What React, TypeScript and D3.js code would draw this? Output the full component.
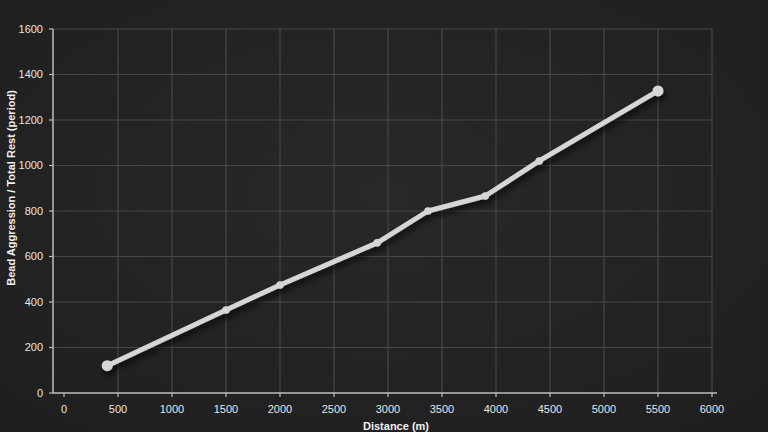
import React from "react";
import * as d3 from "d3";

const xValues = [400, 1500, 2000, 2900, 3370, 3900, 4400, 5500];
const yValues = [120, 365, 475, 660, 800, 866, 1020, 1328];
const xTicks = [0, 500, 1000, 1500, 2000, 2500, 3000, 3500, 4000, 4500, 5000, 5500, 6000];
const yTicks = [0, 200, 400, 600, 800, 1000, 1200, 1400, 1600];
const yTitle = "Bead Aggression / Total Rest (period)";
const xTitle = "Distance (m)";

const W = 768;
const H = 432;
const axisX = 53;
const axisY = 393;

export default function App() {
  const x = d3.scaleLinear().domain([0, 6000]).range([64, 712]);
  const y = d3.scaleLinear().domain([0, 1600]).range([393, 29]);
  const pts = xValues.map((v, i) => [v, yValues[i]] as [number, number]);
  const line = d3
    .line<[number, number]>()
    .x((d) => x(d[0]))
    .y((d) => y(d[1]));
  const fmtX = d3.format("d");
  const fmtY = d3.format("d");
  const font = "'Liberation Sans', Arial, sans-serif";
  return (
    <svg
      width={W}
      height={H}
      style={{ position: "absolute", left: 0, top: 0, background: "#232323" }}
    >
      <defs>
        <filter id="sh" x="-10%" y="-10%" width="120%" height="130%">
          <feDropShadow dx="2" dy="4" stdDeviation="3" floodColor="#000" floodOpacity="0.75" />
        </filter>
        <radialGradient id="bg" cx="50%" cy="45%" r="70%">
          <stop offset="0%" stopColor="#282828" />
          <stop offset="100%" stopColor="#1f1f1f" />
        </radialGradient>
      </defs>
      <rect width={W} height={H} fill="url(#bg)" />
      {/* grid */}
      {yTicks.slice(1).map((t) => (
        <line key={"gy" + t} x1={axisX} x2={712} y1={y(t)} y2={y(t)} stroke="#474747" strokeWidth={1.2} />
      ))}
      {xTicks.slice(1).map((t) => (
        <line key={"gx" + t} x1={x(t)} x2={x(t)} y1={29} y2={axisY} stroke="#474747" strokeWidth={1.2} />
      ))}
      {/* axes */}
      <line x1={axisX} x2={axisX} y1={29} y2={axisY} stroke="#bdbdbd" strokeWidth={1.5} />
      <line x1={axisX} x2={717} y1={axisY} y2={axisY} stroke="#bdbdbd" strokeWidth={1.5} />
      {yTicks.map((t) => (
        <g key={"ty" + t}>
          <line x1={axisX - 4} x2={axisX} y1={y(t)} y2={y(t)} stroke="#bdbdbd" strokeWidth={1.2} />
          <text
            x={43}
            y={y(t)}
            dy="0.35em"
            textAnchor="end"
            fill="#e6e6e6"
            fontSize={11}
            fontFamily={font}
          >
            {fmtY(t)}
          </text>
        </g>
      ))}
      {xTicks.map((t) => (
        <g key={"tx" + t}>
          <line x1={x(t)} x2={x(t)} y1={axisY} y2={axisY + 4} stroke="#bdbdbd" strokeWidth={1.2} />
          <text
            x={x(t)}
            y={413}
            textAnchor="middle"
            fill="#e6e6e6"
            fontSize={11}
            fontFamily={font}
          >
            {fmtX(t)}
          </text>
        </g>
      ))}
      {/* titles */}
      <text
        transform={`translate(15,${188}) rotate(-90)`}
        textAnchor="middle"
        fill="#f0f0f0"
        fontSize={11}
        fontWeight="bold"
        fontFamily={font}
      >
        {yTitle}
      </text>
      <text
        x={396}
        y={430}
        textAnchor="middle"
        fill="#f0f0f0"
        fontSize={11}
        fontWeight="bold"
        fontFamily={font}
      >
        {xTitle}
      </text>
      {/* line */}
      <g filter="url(#sh)">
        <path
          d={line(pts) || ""}
          fill="none"
          stroke="#d6d6d6"
          strokeWidth={5}
          strokeLinejoin="round"
          strokeLinecap="round"
        />
        {pts.map((d, i) => (
          <circle
            key={"p" + i}
            cx={x(d[0])}
            cy={y(d[1])}
            r={i === 0 || i === pts.length - 1 ? 5.5 : 3.8}
            fill="#d6d6d6"
          />
        ))}
      </g>
    </svg>
  );
}
